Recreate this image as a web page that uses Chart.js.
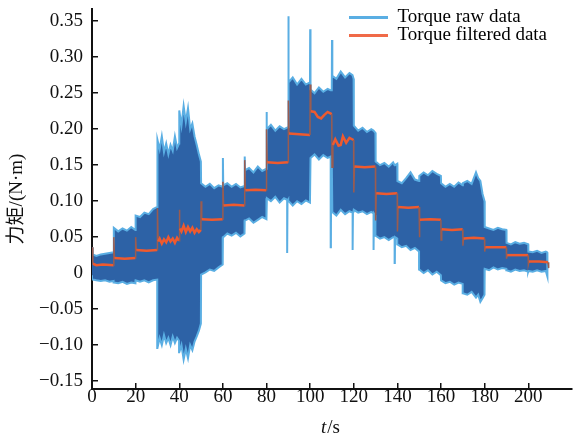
<!DOCTYPE html>
<html>
<head>
<meta charset="utf-8">
<script src="https://cdn.jsdelivr.net/npm/chart.js@4"></script>
<style>
  html, body { margin: 0; padding: 0; background: #fff; }
  #wrap { width: 574px; height: 436px; position: relative; }
</style>
</head>
<body>
<div id="wrap"><canvas id="torqueChart"></canvas></div>
<script>
// ===== DATA =====

// Raw torque: upper / lower envelope of the dense signal band, t in s
const rawTime = [
  0, 0.3, 2, 4, 6, 8, 9.9,
  10, 12, 14, 16, 18, 19.9,
  20, 22, 24, 26, 28, 29.9,
  30, 31, 32, 33, 34, 35, 36, 37, 38, 39, 39.9,
  40, 41, 42, 43, 44, 45, 46, 47, 48, 49, 49.9,
  50, 52, 54, 56, 58, 59.9,
  60, 60.15, 62, 64, 66, 68, 69.9,
  70, 70.15, 72, 74, 76, 78, 79.9,
  80, 80.15, 82, 84, 86, 88, 89.4, 89.5, 89.6, 89.9,
  90, 90.15, 92, 94, 96, 98, 99.9,
  100, 100.15, 102, 104, 106, 108, 109.4, 109.5, 109.6, 109.9,
  110, 110.15, 112, 114, 116, 118, 119.4, 119.5, 119.6, 119.9,
  120, 122, 124, 126, 128, 129, 129.1, 129.2, 129.9,
  130, 132, 134, 136, 138, 138.7, 138.8, 138.9, 139.9,
  140, 142, 144, 146, 148, 149.9,
  150, 152, 154, 156, 158, 159.9,
  160, 162, 164, 166, 168, 169.9,
  170, 172, 174, 176, 177, 178, 179, 179.9,
  180, 182, 184, 186, 188, 189.9,
  190, 192, 194, 196, 198, 199.9,
  200, 202, 204, 206, 208, 208.6, 208.8
];
const rawUpper = [
  0.036, 0.026, 0.024, 0.026, 0.027, 0.028, 0.029,
  0.063, 0.058, 0.062, 0.059, 0.064, 0.060,
  0.080, 0.078, 0.084, 0.082, 0.089, 0.092,
  0.185, 0.172, 0.190, 0.168, 0.180, 0.165, 0.178, 0.170, 0.190, 0.174, 0.180,
  0.226, 0.205, 0.232, 0.210, 0.229, 0.200, 0.208, 0.190, 0.178, 0.165, 0.155,
  0.125, 0.120, 0.124, 0.118, 0.122, 0.120,
  0.160, 0.122, 0.125, 0.120, 0.124, 0.119, 0.121,
  0.162, 0.143, 0.146, 0.140, 0.148, 0.142, 0.145,
  0.224, 0.200, 0.206, 0.198, 0.204, 0.200, 0.202, 0.202, 0.202, 0.203,
  0.357, 0.265, 0.272, 0.262, 0.270, 0.262, 0.265,
  0.339, 0.255, 0.250, 0.258, 0.252, 0.256, 0.254, 0.254, 0.254, 0.255,
  0.324, 0.274, 0.270, 0.280, 0.272, 0.278, 0.275, 0.275, 0.275, 0.270,
  0.205, 0.198, 0.202, 0.196, 0.200, 0.198, 0.198, 0.198, 0.195,
  0.155, 0.150, 0.153, 0.148, 0.154, 0.150, 0.150, 0.150, 0.152,
  0.128, 0.125, 0.132, 0.140, 0.130, 0.128,
  0.135, 0.140, 0.136, 0.142, 0.138, 0.135,
  0.125, 0.120, 0.124, 0.120, 0.126, 0.122,
  0.125, 0.128, 0.124, 0.140, 0.132, 0.128, 0.110, 0.100,
  0.064, 0.062, 0.060, 0.063, 0.061, 0.060,
  0.042, 0.040, 0.043, 0.041, 0.042, 0.040,
  0.030, 0.029, 0.031, 0.028, 0.030, 0.029, 0.020
];
const rawLower = [
  -0.003, -0.009, -0.010, -0.011, -0.010, -0.012, -0.011,
  -0.013, -0.014, -0.012, -0.015, -0.013, -0.014,
  -0.010, -0.012, -0.010, -0.013, -0.010, -0.009,
  -0.104, -0.090, -0.100, -0.086, -0.097, -0.090, -0.100, -0.088, -0.097, -0.090, -0.094,
  -0.110, -0.100, -0.120, -0.105, -0.118, -0.100, -0.107, -0.095, -0.088, -0.080, -0.070,
  -0.002, 0.001, 0.005, 0.003, 0.008, 0.012,
  0.050, 0.050, 0.055, 0.052, 0.056, 0.051, 0.055,
  0.073, 0.073, 0.076, 0.070, 0.074, 0.078, 0.075,
  0.104, 0.104, 0.100, 0.106, 0.098, 0.104, 0.102, 0.028, 0.100, 0.102,
  0.100, 0.100, 0.094, 0.100, 0.096, 0.101, 0.098,
  0.160, 0.160, 0.165, 0.158, 0.164, 0.160, 0.162, 0.036, 0.160, 0.158,
  0.085, 0.085, 0.080, 0.088, 0.082, 0.086, 0.084, 0.032, 0.084, 0.085,
  0.088, 0.084, 0.086, 0.082, 0.085, 0.083, 0.032, 0.083, 0.080,
  0.052, 0.048, 0.050, 0.046, 0.050, 0.050, 0.014, 0.050, 0.048,
  0.040, 0.036, 0.038, 0.032, 0.035, 0.030,
  0.005, 0.000, 0.004, -0.002, 0.002, -0.003,
  -0.010, -0.014, -0.012, -0.016, -0.013, -0.015,
  -0.028, -0.030, -0.026, -0.034, -0.030, -0.040, -0.035, -0.030,
  0.006, 0.004, 0.008, 0.005, 0.007, 0.006,
  0.004, 0.002, 0.005, 0.003, 0.004, 0.002,
  0.003, 0.002, 0.004, 0.002, 0.003, -0.005, 0.005
];

// Filtered torque (step levels with their overshoot at each change)
const filtTime = [
  0, 0.4, 2, 5, 9.9,
  10, 10.3, 15, 19.9,
  20, 20.3, 25, 29.9,
  30, 30.3, 31, 32, 33, 34, 35, 36, 37, 38, 39, 39.9,
  40, 40.3, 41, 42, 43, 44, 45, 46, 47, 48, 49, 49.9,
  50, 50.3, 55, 59.9,
  60, 60.3, 65, 69.9,
  70, 70.3, 75, 79.9,
  80, 80.3, 85, 89.9,
  90, 90.3, 95, 99.9,
  100, 100.3, 102, 103.5, 105, 106.5, 108, 109.9,
  110, 110.4, 111.5, 113, 114, 115, 116.5, 118, 119.9,
  120, 120.3, 125, 129.9,
  130, 130.3, 135, 139.9,
  140, 140.3, 145, 149.9,
  150, 150.3, 155, 159.9,
  160, 160.3, 165, 169.9,
  170, 170.3, 175, 179.9,
  180, 180.3, 185, 189.9,
  190, 190.3, 195, 199.9,
  200, 200.3, 205, 209, 209.3
];
const filtValue = [
  0.036, 0.013, 0.011, 0.012, 0.011,
  0.050, 0.021, 0.020, 0.021,
  0.050, 0.032, 0.031, 0.032,
  0.090, 0.044, 0.048, 0.041, 0.047, 0.043, 0.050, 0.044, 0.048, 0.042, 0.049, 0.045,
  0.088, 0.062, 0.058, 0.066, 0.057, 0.064, 0.058, 0.063, 0.056, 0.061, 0.057, 0.060,
  0.100, 0.075, 0.074, 0.075,
  0.127, 0.094, 0.095, 0.094,
  0.157, 0.115, 0.116, 0.115,
  0.200, 0.154, 0.153, 0.154,
  0.240, 0.194, 0.193, 0.192,
  0.262, 0.225, 0.224, 0.217, 0.215, 0.220, 0.224, 0.221,
  0.147, 0.178, 0.186, 0.177, 0.178, 0.190, 0.181, 0.188, 0.185,
  0.112, 0.148, 0.147, 0.148,
  0.073, 0.111, 0.110, 0.111,
  0.058, 0.092, 0.091, 0.092,
  0.050, 0.074, 0.075, 0.074,
  0.046, 0.061, 0.060, 0.061,
  0.038, 0.048, 0.049, 0.048,
  0.030, 0.036, 0.036, 0.036,
  0.020, 0.025, 0.025, 0.025,
  0.012, 0.016, 0.016, 0.015, 0.007
];

const xTicks = [0, 20, 40, 60, 80, 100, 120, 140, 160, 180, 200];
const yTicks = [-0.15, -0.10, -0.05, 0, 0.05, 0.10, 0.15, 0.20, 0.25, 0.30, 0.35];
const seriesNames = ['Torque raw data', 'Torque filtered data'];
const yTitle = '力矩/(N·m)';

// ===== STYLE =====
const RAW_EDGE = '#5aaee3';
const RAW_FILL = '#2d62a6';
const FILT = '#ef5a2e';
const FILT_STEP = '#9a5c50';
const SERIF = '"Liberation Serif", "Noto Sans CJK SC", serif';

// Band outline: along the upper envelope, then back along the lower one
const bandPoints = rawTime.map((t, i) => ({ x: t, y: rawUpper[i] }))
    .concat(rawTime.map((t, i) => ({ x: t, y: rawLower[i] })).reverse());
const filtPoints = filtTime.map((t, i) => ({ x: t, y: filtValue[i] }));

// Put the vertical legend in the top-right corner of the plot
const legendCorner = {
    id: 'legendCorner',
    afterLayout(chart) {
        const lg = chart.legend;
        if (!lg) return;
        const h = lg.height;
        lg.left = chart.chartArea.right - 223;
        lg.top = chart.chartArea.top;
        lg.bottom = lg.top + h;
    }
};

// x axis title with italic "t"
const xTitle = {
    id: 'xTitle',
    afterDraw(chart) {
        const ctx = chart.ctx;
        const cx = (chart.chartArea.left + chart.chartArea.right) / 2 - 2;
        const y = 433;
        ctx.save();
        ctx.fillStyle = '#111';
        ctx.textBaseline = 'alphabetic';
        ctx.font = 'italic 19px ' + SERIF;
        const wT = ctx.measureText('t').width;
        ctx.font = '19px ' + SERIF;
        const wS = ctx.measureText('/s').width;
        const x0 = cx - (wT + wS) / 2;
        ctx.font = 'italic 19px ' + SERIF;
        ctx.fillText('t', x0, y);
        ctx.font = '19px ' + SERIF;
        ctx.fillText('/s', x0 + wT + 1, y);
        ctx.restore();
    }
};

const axisCommon = {
    grid: { display: true, drawOnChartArea: false, drawTicks: true, tickLength: -6, color: '#111', lineWidth: 1.5 },
    border: { display: true, color: '#111', width: 2 }
};

// no label-overhang padding, the plot box is fixed
const noPad = s => { s.paddingTop = 0; s.paddingBottom = 0; s.paddingLeft = 0; s.paddingRight = 0; };

new Chart(document.getElementById('torqueChart'), {
    type: 'line',
    data: {
        datasets: [
            {
                label: seriesNames[0],
                data: bandPoints,
                borderColor: RAW_EDGE,
                backgroundColor: RAW_FILL,
                borderWidth: 2,
                pointRadius: 0,
                fill: 'shape',
                order: 1
            },
            {
                label: seriesNames[1],
                data: filtPoints,
                borderColor: FILT,
                borderWidth: 2.5,
                pointRadius: 0,
                fill: false,
                order: 0,
                segment: {
                    borderColor: c => (Math.abs(c.p1.parsed.x - c.p0.parsed.x) < 0.5 ? FILT_STEP : FILT),
                    borderWidth: c => (Math.abs(c.p1.parsed.x - c.p0.parsed.x) < 0.5 ? 1.5 : 2.5)
                }
            }
        ]
    },
    options: {
        responsive: true,
        maintainAspectRatio: false,
        animation: false,
        layout: { padding: { left: 0, right: 2, top: 9, bottom: 0 } },
        plugins: {
            tooltip: { enabled: false },
            legend: {
                position: 'chartArea',
                align: 'start',
                labels: {
                    font: { family: SERIF, size: 19 },
                    color: '#111',
                    boxWidth: 40,
                    boxHeight: 3,
                    padding: -1,
                    generateLabels: () => [
                        { text: seriesNames[0], fillStyle: RAW_EDGE, strokeStyle: RAW_EDGE, lineWidth: 0, datasetIndex: 0 },
                        { text: seriesNames[1], fillStyle: '#f06a48', strokeStyle: '#f06a48', lineWidth: 0, datasetIndex: 1 }
                    ]
                }
            }
        },
        scales: {
            x: {
                type: 'linear',
                min: 0,
                max: 220,
                ...axisCommon,
                afterBuildTicks: s => { s.ticks = xTicks.map(v => ({ value: v })); },
                afterFit: s => { s.height = 47; noPad(s); },
                ticks: {
                    font: { family: SERIF, size: 19 },
                    color: '#111',
                    padding: 3,
                    maxRotation: 0,
                    callback: v => String(v)
                }
            },
            y: {
                type: 'linear',
                min: -0.161,
                max: 0.367,
                ...axisCommon,
                afterBuildTicks: s => { s.ticks = yTicks.map(v => ({ value: v })); },
                afterFit: s => { s.width = 92; noPad(s); },
                title: {
                    display: true,
                    text: yTitle,
                    font: { family: SERIF, size: 19 },
                    color: '#111',
                    padding: { top: 6, bottom: 0 }
                },
                ticks: {
                    font: { family: SERIF, size: 19 },
                    color: '#111',
                    padding: 15,
                    callback: v => (Math.abs(v) < 1e-9 ? '0' : (v < 0 ? '\u2212' : '') + Math.abs(v).toFixed(2))
                }
            }
        }
    },
    plugins: [legendCorner, xTitle]
});
</script>
</body>
</html>
